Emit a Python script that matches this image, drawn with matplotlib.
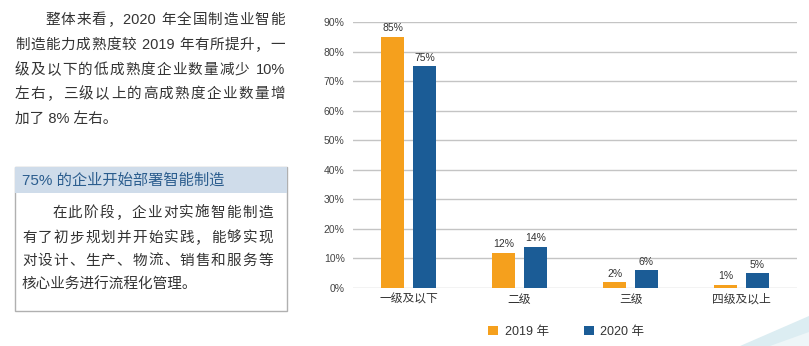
import re
import matplotlib
matplotlib.use("Agg")
import matplotlib.pyplot as plt
from matplotlib.patches import Rectangle, Polygon
import numpy as np

plt.rcParams['font.family'] = ['Liberation Sans', 'Noto Sans CJK SC', 'DejaVu Sans']

# data
categories = ["一级及以下", "二级", "三级", "四级及以上"]
series_names = ["2019 年", "2020 年"]
values_2019 = [85, 12, 2, 1]
values_2020 = [75, 14, 6, 5]
yticks = [0, 10, 20, 30, 40, 50, 60, 70, 80, 90]

intro_lines = ["整体来看，2020 年全国制造业智能",
               "制造能力成熟度较 2019 年有所提升，一",
               "级及以下的低成熟度企业数量减少 10%",
               "左右，三级以上的高成熟度企业数量增",
               "加了 8% 左右。"]
box_title = "75% 的企业开始部署智能制造"
box_lines = ["在此阶段，企业对实施智能制造",
             "有了初步规划并开始实践，能够实现",
             "对设计、生产、物流、销售和服务等",
             "核心业务进行流程化管理。"]

orange = "#f5a01d"
blue = "#1b5c96"
text_col = "#333333"

W, H = 809, 346
fig = plt.figure(figsize=(W / 100, H / 100), dpi=100)
renderer = fig.canvas.get_renderer()


def put_line(s, x0, x1, y, justify=True, size=10.5, color=text_col):
    # place a line of text in pixel coords; spread tokens to fill x0..x1
    if not justify:
        fig.text(x0 / W, 1 - y / H, s, fontsize=size, color=color, va="center")
        return
    tokens = re.findall(r"[0-9A-Za-z%]+ ?| |.", s)
    widths = []
    for tk in tokens:
        t = fig.text(0, 0, tk.replace(" ", "\u00a0"), fontsize=size)
        widths.append(t.get_window_extent(renderer).width)
        t.remove()
    extra = (x1 - x0 - sum(widths)) / max(len(tokens) - 1, 1)
    x = x0
    for tk, w in zip(tokens, widths):
        fig.text(x / W, 1 - y / H, tk, fontsize=size, color=color, va="center")
        x += w + extra


# intro paragraph
ys = [20, 45, 70, 94, 119]
for i, (line, y) in enumerate(zip(intro_lines, ys)):
    x0 = 45 if i == 0 else 15
    put_line(line, x0, 285, y, justify=(i < len(intro_lines) - 1))

# boxed note
fig.patches.append(Rectangle((15 / W, 1 - 311 / H), 272 / W, 144 / H,
                             transform=fig.transFigure, facecolor="white",
                             edgecolor="#b0b0b0", lw=1))
fig.patches.append(Rectangle((15.5 / W, 1 - 193 / H), 271 / W, 26 / H,
                             transform=fig.transFigure, facecolor="#cfdcea",
                             edgecolor="none"))
put_line(box_title, 22, 0, 180, justify=False, size=11, color="#2b5d8e")
ys = [213, 238, 261, 285]
for i, (line, y) in enumerate(zip(box_lines, ys)):
    x0 = 52 if i == 0 else 22
    put_line(line, x0, 273, y, justify=(i < len(box_lines) - 1))

# decorative swoosh bottom right
fig.patches.append(Polygon([(740 / W, 0), (809 / W, 30 / H), (809 / W, 0)],
                           closed=True, transform=fig.transFigure,
                           facecolor="#dcedf2", edgecolor="none"))
fig.patches.append(Polygon([(770 / W, 0), (809 / W, 14 / H), (809 / W, 0)],
                           closed=True, transform=fig.transFigure,
                           facecolor="#eef6f8", edgecolor="none"))

# chart
ax = fig.add_axes([353 / W, 1 - 288 / H, 444 / W, 266 / H])
x = np.arange(len(categories))
bw = 0.207
off = 0.144
b1 = ax.bar(x - off, values_2019, bw, color=orange, zorder=3, label=series_names[0])
b2 = ax.bar(x + off, values_2020, bw, color=blue, zorder=3, label=series_names[1])
for bars, vals in ((b1, values_2019), (b2, values_2020)):
    for r, v in zip(bars, vals):
        ax.text(r.get_x() + r.get_width() / 2, v + 1.2, f"{v}%", ha="center",
                va="bottom", fontsize=7.5, color=text_col, clip_on=False)

ax.set_xlim(-0.5, len(categories) - 0.5)
ax.set_ylim(0, 90)
ax.set_yticks(yticks)
ax.set_yticklabels([f"{t}%" for t in yticks], fontsize=7.5, color="#444444")
ax.set_xticks(x)
ax.set_xticklabels(categories, fontsize=8.5, color=text_col)
ax.tick_params(length=0, pad=4)
ax.tick_params(axis="y", pad=6)
ax.grid(axis="y", color="#c4c4c4", lw=1, zorder=0)
for s in ax.spines.values():
    s.set_visible(False)
ax.set_facecolor("none")

ax.legend(loc="upper center", bbox_to_anchor=(0.48, -0.1), ncol=2, frameon=False,
          fontsize=9, handlelength=0.8, handleheight=0.8, columnspacing=2.8,
          handletextpad=0.5, labelcolor=text_col)

fig.savefig("out.png", dpi=100)
